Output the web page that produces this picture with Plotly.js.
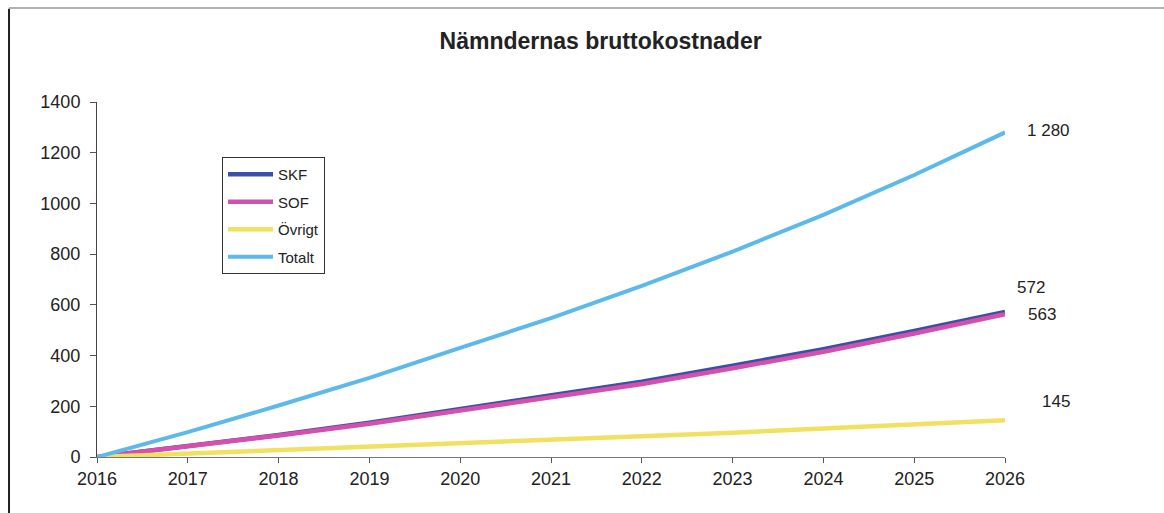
<!DOCTYPE html>
<html>
<head>
<meta charset="utf-8">
<script src="https://cdn.plot.ly/plotly-3.0.1.min.js"></script>
<style>html,body{margin:0;padding:0;background:#fff;}#chart{width:1164px;height:513px;}</style>
</head>
<body>
<div id="chart"></div>
<script>
var years = [2016, 2017, 2018, 2019, 2020, 2021, 2022, 2023, 2024, 2025, 2026];
var skf = [0, 42, 87, 135, 188, 240, 297, 360, 425, 497, 572];
var sof = [0, 41, 85, 131, 182, 233, 288, 350, 415, 487, 563];
var ovrigt = [0, 13, 27, 40, 54, 68, 82, 96, 111, 128, 145];
var totalt = [0, 98, 203, 312, 430, 548, 675, 810, 955, 1112, 1280];
var seriesNames = ["SKF", "SOF", "Övrigt", "Totalt"];
var yTicks = [0, 200, 400, 600, 800, 1000, 1200, 1400];

var colors = ["#3a50a6", "#d54fae", "#f2e060", "#5cb9ea"];
var widths = [4.5, 4.5, 4.5, 4];
var seriesData = [skf, sof, ovrigt, totalt];

var traces = seriesData.map(function (vals, i) {
  return {
    x: years, y: vals, type: "scatter", mode: "lines",
    name: seriesNames[i], legendgroup: "g" + i,
    line: {color: colors[i], width: widths[i]}
  };
});

function fmt(v) { return String(v).replace(/\B(?=(\d{3})+(?!\d))/g, " "); }
var lastX = years[years.length - 1];
var offsets = [[10, 24], [21, 0], [35, 19], [20, 2]];
var annotations = seriesData.map(function (vals, i) {
  var v = vals[vals.length - 1];
  return {
    x: lastX, y: v, xref: "x", yref: "y", text: fmt(v), showarrow: false,
    xanchor: "left", yanchor: "middle", xshift: offsets[i][0], yshift: offsets[i][1],
    font: {family: "Liberation Sans, Arial, sans-serif", size: 17, color: "#222"}
  };
});

var layout = {
  width: 1164, height: 513,
  margin: {l: 97, r: 159, t: 102, b: 56},
  paper_bgcolor: "#ffffff", plot_bgcolor: "#ffffff",
  font: {family: "Liberation Sans, Arial, sans-serif", size: 17, color: "#222"},
  title: {text: "<b>Nämndernas bruttokostnader</b>", x: 0.516, xanchor: "center", y: 0.921, yanchor: "middle",
          font: {family: "Liberation Sans, Arial, sans-serif", size: 23, color: "#222"}},
  xaxis: {range: [2016, 2026], tickvals: years, ticktext: years.map(String), showgrid: false, zeroline: false,
          showline: true, linecolor: "#777", linewidth: 1, ticks: "outside", ticklen: 5, tickcolor: "#555",
          tickfont: {size: 18, color: "#222"}},
  yaxis: {range: [0, 1400], tickvals: yTicks, showgrid: false, zeroline: false,
          showline: true, linecolor: "#444", linewidth: 1, ticks: "outside", ticklen: 6, tickcolor: "#555",
          tickfont: {size: 18, color: "#222"}, ticklabelstandoff: 6},
  showlegend: true,
  legend: {x: 0.1377, y: 0.845, xanchor: "left", yanchor: "top", bgcolor: "#ffffff",
           bordercolor: "#333", borderwidth: 1, tracegroupgap: 5,
           font: {size: 15, color: "#222"}, itemwidth: 45},
  annotations: annotations,
  shapes: [
    {type: "line", xref: "paper", yref: "paper", x0: -0.0969, x1: -0.0969, y0: 1.263, y1: -0.2, line: {color: "#222", width: 2}},
    {type: "line", xref: "paper", yref: "paper", x0: -0.0969, x1: 1.2, y0: 1.2648, y1: 1.2648, line: {color: "#999", width: 1.5}}
  ]
};

Plotly.newPlot("chart", traces, layout, {displayModeBar: false, staticPlot: true});
</script>
</body>
</html>
